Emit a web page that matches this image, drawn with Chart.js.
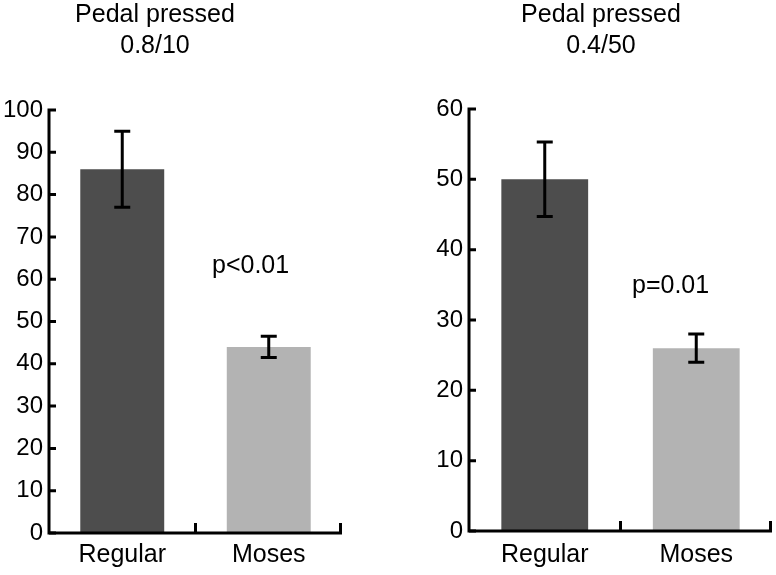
<!DOCTYPE html>
<html>
<head>
<meta charset="utf-8">
<script src="https://cdn.jsdelivr.net/npm/chart.js@4"></script>
<style>
  body { margin: 0; background: #fff; }
  #wrap { position: relative; width: 776px; height: 575px; }
  canvas { position: absolute; top: 0; }
</style>
</head>
<body>
<div id="wrap">
  <canvas id="chartL" width="388" height="575" style="left:0"></canvas>
  <canvas id="chartR" width="388" height="575" style="left:388px"></canvas>
</div>
<script>
const categories = ['Regular', 'Moses'];
const barColors = ['#4d4d4d', '#b3b3b3'];

const leftValues = [86, 44];
const leftErrors = [9, 2.5];
const leftMax = 100;
const leftTitle = ['Pedal pressed', '0.8/10'];
const leftP = 'p<0.01';

const rightValues = [50, 26];
const rightErrors = [5.3, 2];
const rightMax = 60;
const rightTitle = ['Pedal pressed', '0.4/50'];
const rightP = 'p=0.01';

const FONT = '"Liberation Sans", Arial, Helvetica, sans-serif';

// axes with inward ticks, error bars, titles and p-value text
const decor = {
  id: 'decor',
  afterDatasetsDraw(chart, args, o) {
    const ctx = chart.ctx;
    const x = chart.scales.x, y = chart.scales.y;
    const a = chart.chartArea;
    const y0 = y.getPixelForValue(0);
    ctx.save();
    ctx.strokeStyle = '#000';
    ctx.lineWidth = 3;
    ctx.lineCap = 'butt';

    // error bars
    const meta = chart.getDatasetMeta(0);
    meta.data.forEach((bar, i) => {
      const v = o.values[i], e = o.errors[i];
      const yt = y.getPixelForValue(v + e), yb = y.getPixelForValue(v - e);
      ctx.beginPath();
      ctx.moveTo(bar.x, yt); ctx.lineTo(bar.x, yb);
      ctx.moveTo(bar.x - 8, yt); ctx.lineTo(bar.x + 8, yt);
      ctx.moveTo(bar.x - 8, yb); ctx.lineTo(bar.x + 8, yb);
      ctx.stroke();
    });

    // y axis
    ctx.beginPath();
    ctx.moveTo(a.left, y.getPixelForValue(o.max) - 1.5);
    ctx.lineTo(a.left, y0 + 1.5);
    y.ticks.forEach(t => {
      const py = y.getPixelForValue(t.value);
      ctx.moveTo(a.left, py); ctx.lineTo(a.left + 7, py);
    });
    ctx.stroke();

    // x axis with boundary ticks
    ctx.beginPath();
    ctx.moveTo(a.left, y0);
    ctx.lineTo(a.right, y0);
    for (let i = 1; i <= categories.length; i++) {
      const px = i < categories.length
        ? (x.getPixelForValue(i - 1) + x.getPixelForValue(i)) / 2
        : a.right - 1.5;
      ctx.moveTo(px, y0); ctx.lineTo(px, y0 - 10);
    }
    ctx.stroke();

    // titles and p text
    ctx.fillStyle = '#000';
    ctx.font = '25px ' + FONT;
    ctx.textAlign = 'center';
    ctx.textBaseline = 'alphabetic';
    ctx.fillText(o.title[0], o.titleX, 22);
    ctx.fillText(o.title[1], o.titleX, 53);
    ctx.textAlign = 'left';
    ctx.fillText(o.p, a.left + 163, y.getPixelForValue(o.pValueY));
    ctx.restore();
  }
};

function makeChart(id, values, errors, max, title, p, pad, titleX, pValueY, xHeight, xPad) {
  return new Chart(document.getElementById(id), {
    type: 'bar',
    data: {
      labels: categories,
      datasets: [{
        data: values,
        backgroundColor: barColors,
        borderWidth: 0,
        categoryPercentage: 1,
        barPercentage: 0.573
      }]
    },
    options: {
      responsive: false,
      animation: false,
      layout: { padding: pad },
      plugins: {
        legend: { display: false },
        tooltip: { enabled: false },
        decor: { values, errors, max, title, p, titleX, pValueY }
      },
      scales: {
        x: {
          offset: true,
          grid: { display: false, drawTicks: false },
          border: { display: false },
          ticks: { color: '#000', font: { family: FONT, size: 25 }, padding: xPad },
          afterFit: s => { s.height = xHeight; }
        },
        y: {
          min: 0, max: max,
          grid: { display: false, drawTicks: false },
          border: { display: false },
          ticks: { stepSize: 10, color: '#000', font: { family: FONT, size: 24 }, padding: 6 },
          afterFit: s => { s.width = 49; }
        }
      }
    },
    plugins: [decor]
  });
}

makeChart('chartL', leftValues, leftErrors, leftMax, leftTitle, leftP,
  { left: 0, right: 46, top: 110, bottom: 0 }, 155, 61.4, 42, 7);
makeChart('chartR', rightValues, rightErrors, rightMax, rightTitle, rightP,
  { left: 32, right: 4, top: 109, bottom: 0 }, 213, 33.9, 44, 9);
</script>
</body>
</html>
